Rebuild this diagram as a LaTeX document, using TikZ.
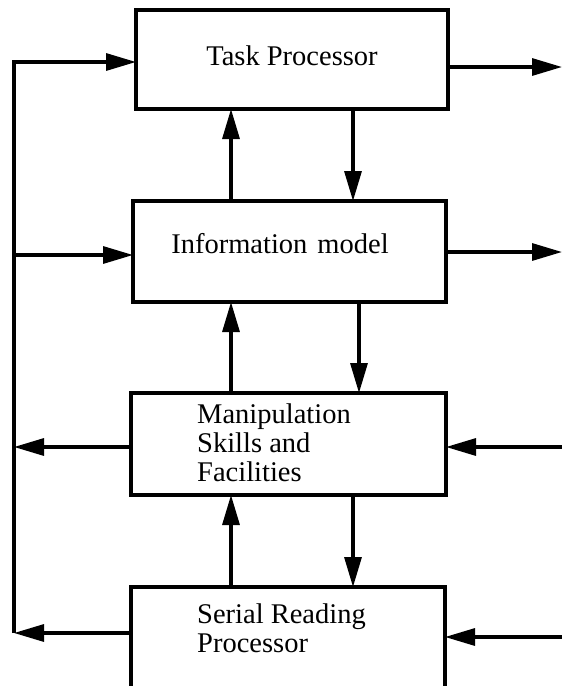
\documentclass[tikz,border=0pt]{standalone}
\usepackage{fontspec}
\setmainfont{Liberation Serif}
\usetikzlibrary{arrows.meta}
\begin{document}
\begin{tikzpicture}[x=1pt,y=-1pt,
  box/.style={draw, line width=3.4pt, inner sep=0pt, outer sep=0pt},
  lbl/.style={font=\fontsize{28.5}{29}\selectfont, inner sep=0pt, align=left},
  conn/.style={line width=3.2pt},
  arr/.style={conn, -{Triangle[length=30pt,width=17pt]}},
]
\useasboundingbox (0,0) rectangle (562,686);
% boxes
\node[box, minimum width=312pt, minimum height=99pt] (tp) at (292,59.5) {};
\node[box, minimum width=313pt, minimum height=101pt] (im) at (289.5,251.5) {};
\node[box, minimum width=315pt, minimum height=102pt] (msf) at (288.5,444) {};
\node[box, minimum width=314pt, minimum height=101pt] (srp) at (288,637.5) {};
% labels
\node[lbl, anchor=base] (tptext) at (292,65) {Task Processor};
\node[lbl, anchor=base] (imtext) at (280,253) {Information\hspace{0.35em}model};
\node[lbl, anchor=base west] (msftext) at (197,481) {Manipulation\\Skills and\\Facilities};
\node[lbl, anchor=base west] (srptext) at (197,652) {Serial Reading\\Processor};
% helper coordinates
\coordinate (colA) at (231,0);
\coordinate (colB) at (353,0);
\coordinate (colC) at (359,0);
\coordinate (b1) at (14,62);
\coordinate (b2) at (14,255);
\coordinate (b3) at (14,447);
\coordinate (b4) at (14,633);
\coordinate (r1) at (562,67);
\coordinate (r2) at (562,252);
\coordinate (r3) at (562,447);
\coordinate (r4) at (562,637);
% vertical connectors
\draw[arr] (im.north -| colA) -- (tp.south -| colA);
\draw[arr] (tp.south -| colB) -- (im.north -| colB);
\draw[arr] (msf.north -| colA) -- (im.south -| colA);
\draw[arr] (im.south -| colC) -- (msf.north -| colC);
\draw[arr] (srp.north -| colA) -- (msf.south -| colA);
\draw[arr] (msf.south -| colB) -- (srp.north -| colB);
% left bus
\draw[arr] (b4) -- (b1) -- (b1 -| tp.west);
\draw[arr] (b2) -- (b2 -| im.west);
\draw[arr] (b3 -| msf.west) -- (b3);
\draw[arr] (b4 -| srp.west) -- (b4);
% right side
\draw[arr] (r1 -| tp.east) -- (r1);
\draw[arr] (r2 -| im.east) -- (r2);
\draw[arr] (r3) -- (r3 -| msf.east);
\draw[arr] (r4) -- (r4 -| srp.east);
\end{tikzpicture}
\end{document}
